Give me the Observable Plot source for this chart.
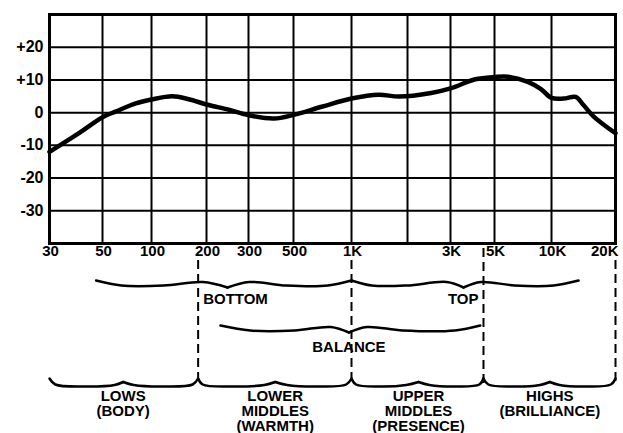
<!DOCTYPE html>
<html><head><meta charset="utf-8">
<script src="https://cdn.jsdelivr.net/npm/d3@7"></script>
<script src="https://cdn.jsdelivr.net/npm/@observablehq/plot@0.6"></script>
<style>html,body{margin:0;padding:0;background:#fff}svg{display:block}</style>
</head><body><div id="chart"></div>
<script>
// Frequency response curve (Hz, dB)
const curveFreq = [30, 40, 50, 60, 80, 100, 130, 160, 200, 250, 300, 400, 500, 700, 1000, 1400, 1800, 2500, 3000, 4000, 5000, 5900, 7500, 8800, 10000, 11400, 13000, 14100, 15800, 20000];
const curveDb   = [-12, -6.2, -1.4, 0.3, 2.8, 4.0, 5.0, 4.1, 2.5, 0.8, -0.8, -1.8, -0.7, 1.8, 4.3, 5.5, 4.9, 6.0, 7.4, 10.2, 10.9, 11.0, 9.4, 7.2, 4.5, 4.3, 4.8, 2.4, -1.2, -6.3];

// Axis ticks and grid
const gridFreqs  = [50, 100, 200, 300, 500, 1000, 2000, 3000, 5000, 10000];
const tickFreqs  = [30, 50, 100, 200, 300, 500, 1000, 3000, 5000, 10000, 20000];
const tickLabels = ["30", "50", "100", "200", "300", "500", "1K", "3K", "5K", "10K", "20K"];
const gridDb     = [20, 10, 0, -10, -20, -30];
const dbLabels   = ["+20", "+10", "0", "-10", "-20", "-30"];

// Frequency bands (braces)
const bandNames = ["BOTTOM", "TOP", "BALANCE", "LOWS\n(BODY)", "LOWER\nMIDDLES\n(WARMTH)", "UPPER\nMIDDLES\n(PRESENCE)", "HIGHS\n(BRILLIANCE)"];
const bandLo    = [47, 1000, 229, 30, 180, 1000, 4400];
const bandMid   = [245, 3490, 970, 67, 406, 2220, 9800];
const bandHi    = [1000, 13400, 4240, 180, 1000, 4400, 20000];
const bandRow   = [0, 0, 1, 2, 2, 2, 2];
const boundaries = [180, 1000, 4400, 20000];

// ---- layout (code, not data) ----
const yUnit = px => -40 - (px - 243) * 70 / 229;
const rowPx = [280, 325, 383];
const shapeTop = [[0, 0], [0.2, 5], [0.55, 5], [0.85, 1.5], [1, 7]];
const shapeBottom = [[0, -5], [0.07, 1], [0.45, 3], [0.85, 1.5], [1, -1.5]];

const curve = curveFreq.map((f, i) => ({f, db: curveDb[i]}));
const braces = [];
bandNames.forEach((name, i) => {
  const shape = bandRow[i] === 2 ? shapeBottom : shapeTop;
  const lo = bandLo[i], mid = bandMid[i], hi = bandHi[i];
  for (const [end, side] of [[lo, "a"], [hi, "b"]]) {
    for (const [h, off] of shape) {
      braces.push({key: name + side, f: end * Math.pow(mid / end, h), y: yUnit(rowPx[bandRow[i]] + off)});
    }
  }
});
const labels = bandNames.map((name, i) => {
  let f = bandMid[i], anchor = "middle", dx = 0, py, lineAnchor = "middle";
  if (i === 0) { f = 180; anchor = "start"; dx = 5; py = 299; }
  else if (i === 1) { f = 4400; anchor = "end"; dx = -5; py = 299; }
  else if (i === 2) { py = 347; }
  else { py = 389.5; lineAnchor = "top"; }
  return {name, f, anchor, dx, y: yUnit(py), lineAnchor};
});
const font = {fontFamily: "Liberation Sans, Arial, sans-serif", fontWeight: "bold", fill: "black"};

const chart = Plot.plot({
  width: 623, height: 433,
  marginLeft: 49, marginRight: 8, marginTop: 14, marginBottom: 190,
  style: {background: "white", fontFamily: "Liberation Sans, Arial, sans-serif"},
  x: {type: "log", axis: null,
      domain: [30, 50, 100, 200, 300, 500, 1000, 2000, 3000, 5000, 10000, 20000],
      range: [49, 102, 151, 206, 248, 293, 351, 407, 450, 494, 551, 615]},
  y: {domain: [-40, 30], range: [243, 14], axis: null},
  marks: [
    Plot.ruleX(gridFreqs, {stroke: "black", strokeWidth: 2}),
    Plot.ruleY(gridDb, {stroke: "black", strokeWidth: 2}),
    Plot.frame({stroke: "black", strokeWidth: 3}),
    Plot.line(curve, {x: "f", y: "db", stroke: "black", strokeWidth: 4.5, curve: "catmull-rom", strokeLinecap: "round"}),
    Plot.text(tickFreqs.slice(0, -1), {x: d => d, frameAnchor: "bottom", dy: 12, dx: 1, text: (d, i) => tickLabels[i], fontSize: 15, ...font}),
    Plot.text(tickFreqs.slice(-1), {x: d => d, frameAnchor: "bottom", dy: 12, dx: 3, textAnchor: "end", text: () => tickLabels[tickLabels.length - 1], fontSize: 15, ...font}),
    Plot.text(gridDb, {y: d => d, frameAnchor: "left", dx: -6, textAnchor: "end", text: (d, i) => dbLabels[i], fontSize: 16, ...font}),
    Plot.ruleX(boundaries, {x: d => d, y1: d => yUnit(d === 4400 ? 248 : 260), y2: yUnit(383), stroke: "black", strokeWidth: 2, strokeDasharray: "9,5"}),
    Plot.line(braces, {x: "f", y: "y", z: "key", stroke: "black", strokeWidth: 2.5, curve: "catmull-rom"}),
    ...labels.map(l => Plot.text([l], {x: "f", y: "y", text: "name", textAnchor: l.anchor, dx: l.dx, lineAnchor: l.lineAnchor, lineHeight: 1, fontSize: 15, ...font}))
  ]
});
document.getElementById("chart").appendChild(chart);
</script>
</body></html>
